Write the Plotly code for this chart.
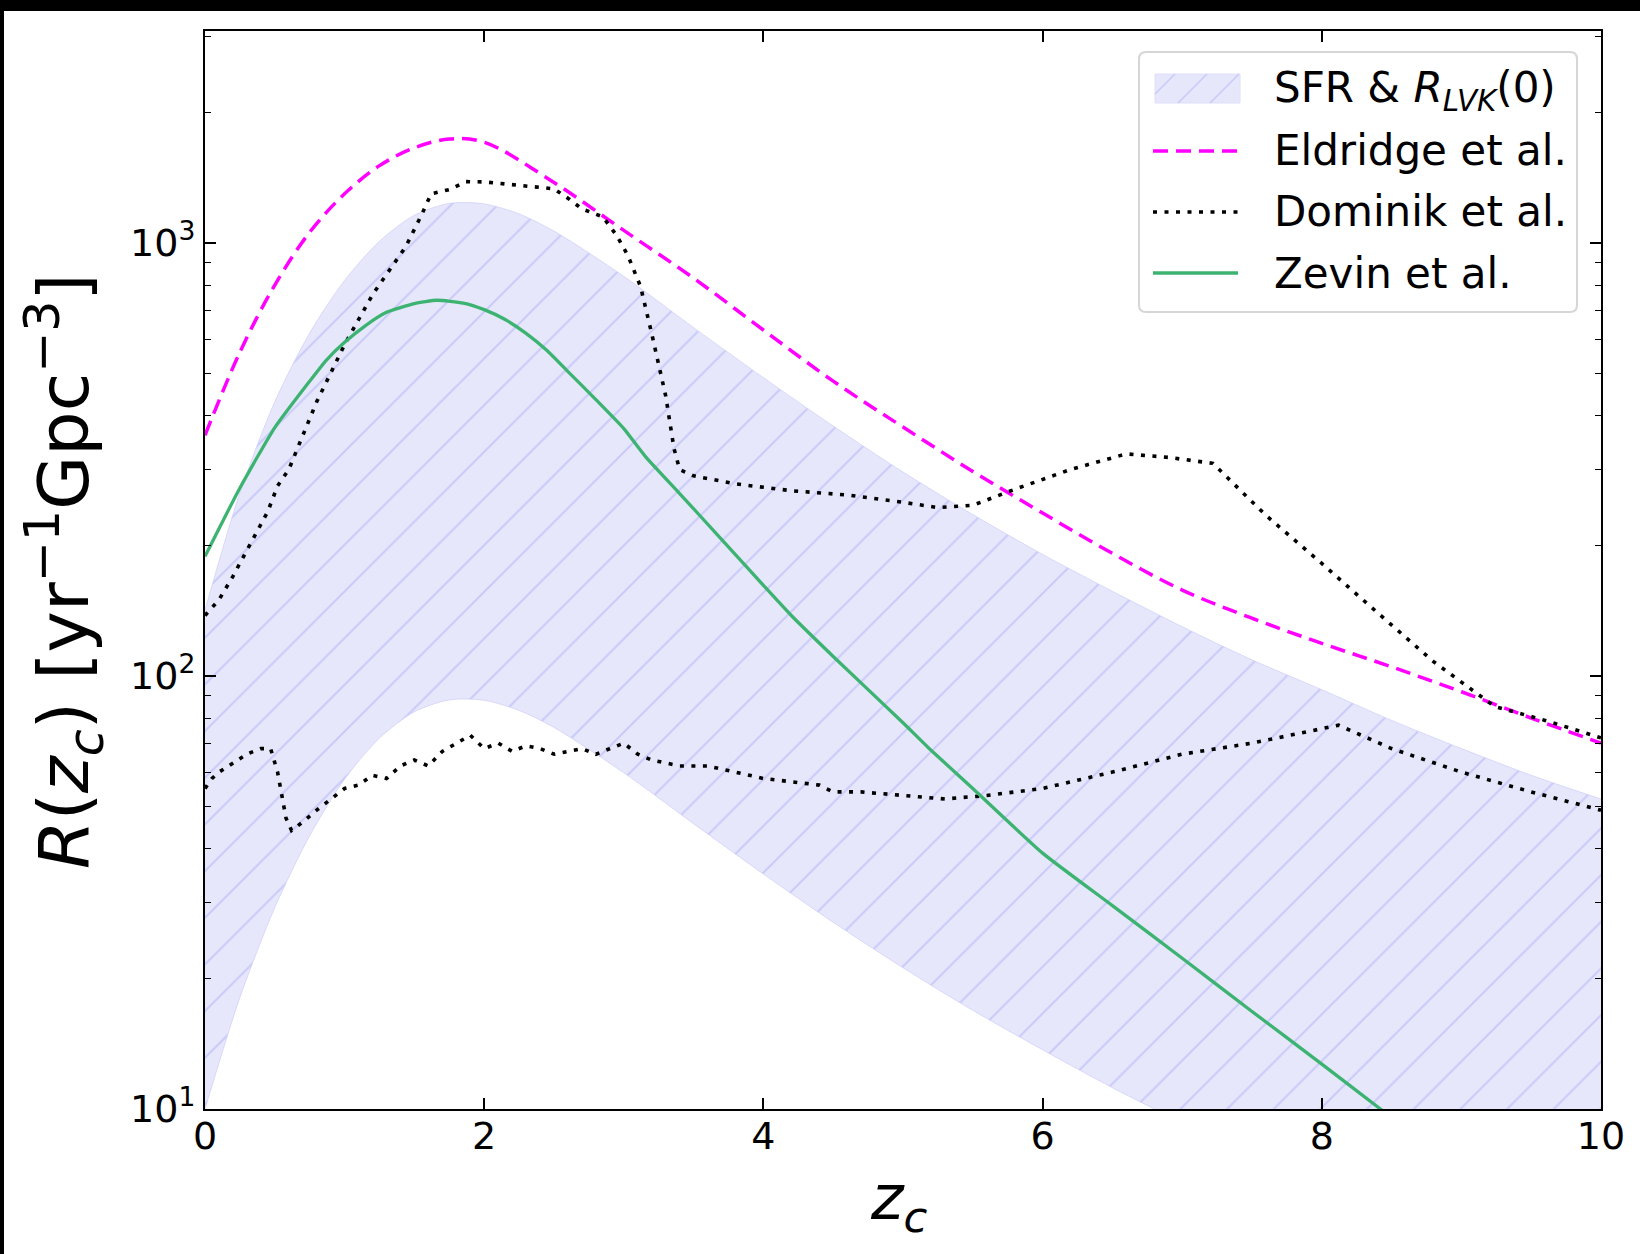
import plotly.graph_objects as go

# ---------------- data ----------------
band_z = [0, 0.25, 0.5, 0.75, 1.0, 1.25, 1.5, 1.75, 2.0, 2.25, 2.5, 3.0, 3.5, 4.0,
          4.5, 5.0, 5.5, 6.0, 6.5, 7.0, 7.5, 8.0, 8.5, 9.0, 9.5, 10]
band_upper = [142, 265, 430, 620, 820, 1010, 1160, 1235, 1232, 1168, 1066, 838, 638, 489,
              378, 296, 236, 191, 157, 130, 109, 93, 79, 68, 59, 52]
band_lower = [10, 18.1, 29.2, 42.8, 57.8, 71.9, 82.7, 88.1, 87.9, 83.3, 76.1, 59.8, 45.6, 34.9,
              27.0, 21.2, 16.9, 13.7, 11.2, 9.3, 7.8, 6.6, 5.7, 4.9, 4.2, 3.7]

eld_z = [0, 0.25, 0.5, 0.75, 1.0, 1.25, 1.5, 1.75, 2.0, 2.5, 3.0, 3.5, 4.0, 4.5, 5.0,
         5.5, 6.0, 6.5, 7.0, 7.5, 8.0, 8.5, 9.0, 9.5, 10]
eld_R = [360, 560, 800, 1060, 1300, 1510, 1660, 1740, 1710, 1380, 1070, 830, 630, 480, 376,
         297, 238, 192, 158, 136, 119, 105, 92, 80, 70]

dom_hi_z = [0, 0.1, 0.2, 0.3, 0.45, 0.52, 0.6, 0.8, 1.0, 1.2, 1.44, 1.55, 1.62, 1.75, 1.87,
            2.0, 2.2, 2.4, 2.5, 2.6, 2.7, 2.85, 2.95, 3.03, 3.12, 3.2, 3.3, 3.36, 3.4, 3.5,
            3.8, 4.2, 4.6, 5.0, 5.25, 5.5, 5.8, 6.2, 6.6, 6.9, 7.22, 7.6, 8.0, 8.4, 8.8,
            9.24, 9.6, 10]
dom_hi_R = [138, 150, 170, 195, 240, 275, 300, 430, 583, 760, 984, 1160, 1300, 1330, 1387,
            1385, 1365, 1345, 1335, 1270, 1200, 1150, 1040, 935, 794, 618, 444, 335, 300, 290,
            278, 268, 262, 252, 245, 248, 270, 300, 326, 320, 310, 235, 182, 140, 108,
            85, 79, 72]

dom_lo_z = [0, 0.05, 0.1, 0.2, 0.3, 0.4, 0.47, 0.52, 0.58, 0.62, 0.7, 0.8, 0.9, 1.0, 1.1,
            1.2, 1.3, 1.4, 1.5, 1.6, 1.7, 1.8, 1.9, 2.0, 2.1, 2.2, 2.3, 2.4, 2.5, 2.6, 2.7,
            2.8, 2.9, 3.0, 3.1, 3.2, 3.4, 3.6, 3.8, 4.0, 4.2, 4.4, 4.5, 4.7, 5.0, 5.3, 5.6,
            6.0, 6.5, 7.0, 7.5, 8.12, 8.5, 9.0, 9.5, 10]
dom_lo_R = [55, 58, 60, 63, 66, 68, 68, 60, 47, 44, 46, 49, 52, 55, 56, 59, 58, 62, 64, 62,
            67, 70, 73, 68, 70, 67, 69, 68, 66, 67, 68, 66, 68, 70, 66, 64, 62, 62, 60, 58,
            57, 56, 54, 54, 53, 52, 53, 55, 60, 66, 70, 77, 68, 60, 54, 49]

zev_z = [0, 0.25, 0.5, 0.75, 0.87, 1.0, 1.15, 1.3, 1.5, 1.66, 1.85, 2.0, 2.15, 2.3, 2.45,
         2.6, 2.8, 3.0, 3.16, 3.4, 3.7, 4.0, 4.2, 4.5, 5.0, 5.18, 5.5, 6.0, 6.5, 7.0, 7.5,
         8.0, 8.42, 9.0, 10]
zev_R = [189, 272, 375, 480, 537, 590, 645, 692, 725, 738, 727, 702, 666, 619, 565,
         505, 435, 373, 320, 264, 207, 162, 138, 111, 78, 68.4, 55, 39, 29.5, 22.3, 16.8,
         12.7, 10, 7.2, 4.3]

x_ticks = [0, 2, 4, 6, 8, 10]
y_ticks = [10, 100, 1000]
y_ticktext = ["10<sup>1</sup>", "10<sup>2</sup>", "10<sup>3</sup>"]
y_minor = [20, 30, 40, 50, 60, 70, 80, 90, 200, 300, 400, 500, 600, 700, 800, 900, 2000, 3000]

legend_names = ["SFR &amp; <i>R</i><sub><i>LVK</i></sub>(0)", "Eldridge et al.",
                "Dominik et al.", "Zevin et al."]

# ---------------- figure ----------------
W, H = 1640, 1254
L, R_, T, B = 205, 39, 31, 145
pw, ph = W - L - R_, H - T - B
FONT = "DejaVu Sans"

BAND_BG = "rgb(231,231,252)"
BAND_FG = "rgb(202,202,250)"
BAND_EDGE = "rgba(205,205,250,0.9)"
MAG = "#ff00ff"
GREEN = "#3cb371"
MAG_DASH = "15px,8px"
DOT_DASH = "4px,7.5px"


def px(x):
    return (x - L) / pw


def py(y):
    return 1 - (y - T) / ph


fig = go.Figure()

# band: lower edge, then upper edge filled down to it
fig.add_trace(go.Scatter(
    x=band_z, y=band_lower, mode="lines", line_shape="spline",
    line=dict(width=0.8, color=BAND_EDGE, smoothing=0.8),
    showlegend=False, hoverinfo="skip",
))
fig.add_trace(go.Scatter(
    x=band_z, y=band_upper, mode="lines", line_shape="spline",
    line=dict(width=0.8, color=BAND_EDGE, smoothing=0.8),
    fill="tonexty", fillcolor=BAND_BG,
    fillpattern=dict(shape="/", size=33, solidity=0.06,
                     fgcolor=BAND_FG, bgcolor=BAND_BG, fillmode="replace"),
    name=legend_names[0], showlegend=False,
))
fig.add_trace(go.Scatter(
    x=eld_z, y=eld_R, mode="lines", line_shape="spline",
    line=dict(color=MAG, width=3.5, dash=MAG_DASH),
    name=legend_names[1], showlegend=False,
))
fig.add_trace(go.Scatter(
    x=dom_hi_z, y=dom_hi_R, mode="lines",
    line=dict(color="black", width=3.6, dash=DOT_DASH),
    name=legend_names[2], showlegend=False,
))
fig.add_trace(go.Scatter(
    x=dom_lo_z, y=dom_lo_R, mode="lines",
    line=dict(color="black", width=3.6, dash=DOT_DASH),
    name=legend_names[2], showlegend=False,
))
fig.add_trace(go.Scatter(
    x=zev_z, y=zev_R, mode="lines", line_shape="spline",
    line=dict(color=GREEN, width=3.3, smoothing=0.5),
    name=legend_names[3], showlegend=False,
))

axis_common = dict(
    showline=True, linecolor="black", linewidth=2, mirror="ticks",
    ticks="inside", ticklen=11, tickwidth=1.6, tickcolor="black",
    showgrid=False, zeroline=False,
    tickfont=dict(family=FONT, size=38, color="black"),
)
fig.update_xaxes(range=[0, 10], tickmode="array", tickvals=x_ticks,
                 ticklabelstandoff=-8, **axis_common)
fig.update_yaxes(type="log", range=[1, 3.49], tickmode="array", tickvals=y_ticks,
                 ticktext=y_ticktext,
                 minor=dict(tickmode="array", tickvals=y_minor, ticks="inside", ticklen=6,
                            tickwidth=1.3, tickcolor="black", showgrid=False),
                 **axis_common)

# ---------- legend drawn in the top-right corner ----------
bx0, bx1, by0, by1, rr = 1139, 1577, 52, 312, 7
rx, ry = rr / pw, rr / ph
path = (f"M {px(bx0)+rx},{py(by0)} L {px(bx1)-rx},{py(by0)} "
        f"Q {px(bx1)},{py(by0)} {px(bx1)},{py(by0)-ry} "
        f"L {px(bx1)},{py(by1)+ry} Q {px(bx1)},{py(by1)} {px(bx1)-rx},{py(by1)} "
        f"L {px(bx0)+rx},{py(by1)} Q {px(bx0)},{py(by1)} {px(bx0)},{py(by1)+ry} "
        f"L {px(bx0)},{py(by0)-ry} Q {px(bx0)},{py(by0)} {px(bx0)+rx},{py(by0)} Z")

shapes = [
    # screenshot frame (black strips on top and left)
    dict(type="rect", xref="paper", yref="paper", layer="above",
         x0=px(0), x1=px(W), y0=py(11), y1=py(0), fillcolor="black", line=dict(width=0)),
    dict(type="rect", xref="paper", yref="paper", layer="above",
         x0=px(0), x1=px(4), y0=py(H), y1=py(0), fillcolor="black", line=dict(width=0)),
    # legend box
    dict(type="path", xref="paper", yref="paper", layer="above", path=path,
         fillcolor="rgba(255,255,255,0.85)", line=dict(color="#d6d6d6", width=2)),
    # band swatch
    dict(type="rect", xref="paper", yref="paper", layer="above",
         x0=px(1155), x1=px(1240), y0=py(103), y1=py(74),
         fillcolor=BAND_BG, line=dict(color="rgb(222,222,252)", width=1)),
]
for (xa, ya, xb, yb) in [(1155, 94, 1175, 74), (1178, 103, 1207, 74), (1210, 103, 1239, 74)]:
    shapes.append(dict(type="line", xref="paper", yref="paper", layer="above",
                       x0=px(xa), y0=py(ya), x1=px(xb), y1=py(yb),
                       line=dict(color=BAND_FG, width=1.6)))
leg_y = [88, 151, 212, 273]
shapes += [
    dict(type="line", xref="paper", yref="paper", layer="above",
         x0=px(1153), x1=px(1238), y0=py(leg_y[1]), y1=py(leg_y[1]),
         line=dict(color=MAG, width=3.5, dash=MAG_DASH)),
    dict(type="line", xref="paper", yref="paper", layer="above",
         x0=px(1153), x1=px(1238), y0=py(leg_y[2]), y1=py(leg_y[2]),
         line=dict(color="black", width=3.6, dash=DOT_DASH)),
    dict(type="line", xref="paper", yref="paper", layer="above",
         x0=px(1153), x1=px(1238), y0=py(leg_y[3]), y1=py(leg_y[3]),
         line=dict(color=GREEN, width=3.3)),
]

annotations = []
for name, yy in zip(legend_names, [leg_y[0] + 3] + leg_y[1:]):
    annotations.append(dict(text=name, xref="paper", yref="paper", x=px(1272), y=py(yy),
                            xanchor="left", yanchor="middle", showarrow=False,
                            font=dict(family=FONT, size=42, color="black")))
annotations += [
    dict(text="<i>R</i>(<i>z</i><sub><i>c</i></sub>) [yr<sup>\u22121</sup>Gpc<sup>\u22123</sup>]",
         xref="paper", yref="paper", x=px(64), y=py(571),
         xanchor="center", yanchor="middle", textangle=-90, showarrow=False,
         font=dict(family=FONT, size=70, color="black")),
    dict(text="<i>z</i><sub><i>c</i></sub>",
         xref="paper", yref="paper", x=px(899), y=py(1201),
         xanchor="center", yanchor="middle", showarrow=False,
         font=dict(family=FONT, size=62, color="black")),
]

fig.update_layout(
    width=W, height=H,
    margin=dict(l=L, r=R_, t=T, b=B, autoexpand=False),
    paper_bgcolor="white", plot_bgcolor="white",
    showlegend=False,
    font=dict(family=FONT, color="black"),
    annotations=annotations,
    shapes=shapes,
)

fig.write_html("out.html", config={"displayModeBar": False},
               post_script="document.body.style.margin='0';document.body.style.overflow='hidden';")
